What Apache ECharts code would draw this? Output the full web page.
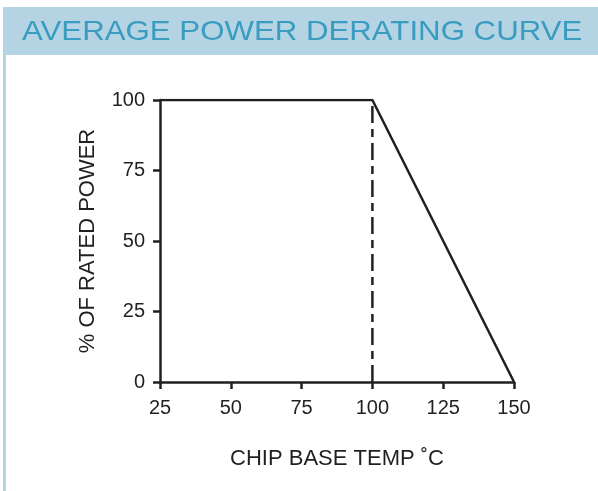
<!DOCTYPE html>
<html><head><meta charset="utf-8">
<script src="https://cdn.jsdelivr.net/npm/echarts@6/dist/echarts.min.js"></script>
<style>html,body{margin:0;padding:0;background:#fff}#c{width:598px;height:491px}</style>
</head><body><div id="c"></div>
<script>
const temps = [25, 100, 150];
const power = [100, 100, 0];
const markerTemps = [100, 100];
const markerPower = [0, 100];
const xTicks = [25, 50, 75, 100, 125, 150];
const yTicks = [0, 25, 50, 75, 100];
const titleText = 'AVERAGE POWER DERATING CURVE';

const chart = echarts.init(document.getElementById('c'));
const font = 'Liberation Sans, Arial, sans-serif';
const ink = '#231f20';
chart.setOption({
  animation: false,
  backgroundColor: '#ffffff',
  graphic: [
    {type: 'rect', x: 3, y: 7, shape: {width: 595, height: 48}, style: {fill: '#b4d4e4'}, z: 0},
    {type: 'rect', x: 3, y: 55, shape: {width: 3, height: 436}, style: {fill: '#b4d4e4'}, z: 0},
    {type: 'text', x: 22, y: 32, scaleX: 1.115, style: {text: titleText, fill: '#3a9cc0', font: '28px ' + font, verticalAlign: 'middle', align: 'left'}, z: 1}
  ],
  grid: {left: 160, right: 84, top: 100, bottom: 109},
  xAxis: {
    type: 'value', min: 25, max: 150, interval: 25,
    name: 'CHIP BASE TEMP ˚C', nameLocation: 'middle', nameGap: 66,
    nameTextStyle: {color: ink, fontSize: 22, fontFamily: font},
    axisLine: {lineStyle: {color: ink, width: 2.5}},
    axisTick: {show: true, length: 7, lineStyle: {color: ink, width: 2.5}},
    axisLabel: {color: ink, fontSize: 20, fontFamily: font, margin: 16},
    splitLine: {show: false}
  },
  yAxis: {
    type: 'value', min: 0, max: 100, interval: 25,
    name: '% OF RATED POWER', nameLocation: 'middle', nameGap: 61, nameRotate: 90,
    nameTextStyle: {color: ink, fontSize: 22, fontFamily: font},
    axisLine: {show: true, lineStyle: {color: ink, width: 2.5}},
    axisTick: {show: true, length: 7, lineStyle: {color: ink, width: 2.5}},
    axisLabel: {color: ink, fontSize: 20, fontFamily: font, margin: 15},
    splitLine: {show: false}
  },
  series: [
    {type: 'line', data: temps.map((t, i) => [t, power[i]]), symbol: 'none',
     lineStyle: {color: ink, width: 2.5}, z: 3},
    {type: 'line', data: markerTemps.map((t, i) => [t, markerPower[i]]), symbol: 'none',
     lineStyle: {color: ink, width: 2.5, type: [17, 6, 8, 6]}, z: 2}
  ]
});
</script></body></html>
